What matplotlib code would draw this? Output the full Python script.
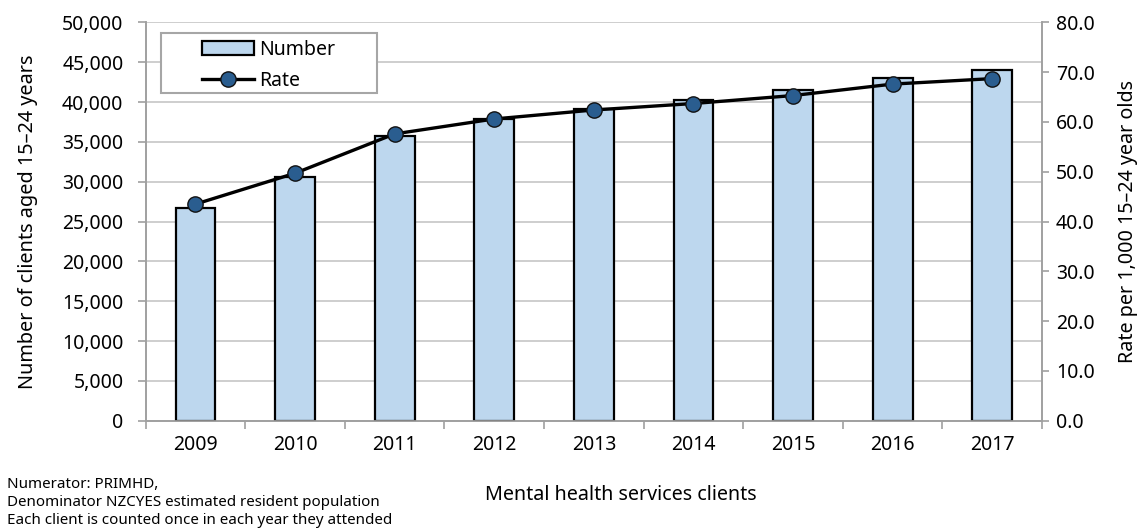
import numpy as np
import matplotlib.pyplot as plt
from matplotlib.patches import Rectangle
from matplotlib.ticker import FuncFormatter, MultipleLocator

plt.rcParams['font.family'] = ['Noto Sans', 'DejaVu Sans']

# Mental health services clients aged 15-24, by year
years = ['2009', '2010', '2011', '2012', '2013', '2014', '2015', '2016', '2017']
clients = [26700, 30600, 35700, 37900, 39150, 40200, 41500, 43050, 44000]
rate_per_1000 = [43.5, 49.7, 57.6, 60.6, 62.4, 63.7, 65.3, 67.6, 68.7]

grid_col = '#c6c6c6'
axis_col = '#a0a0a0'

fig = plt.figure(figsize=(11.41, 5.32), dpi=100)
ax = fig.add_axes([0.1277, 0.2092, 0.9132 - 0.1277, 0.958 - 0.2092])
ax2 = ax.twinx()

x = np.arange(len(years))
bars = ax.bar(x, clients, width=0.4, color='#bdd7ee', edgecolor='black',
              linewidth=1.6, label='Number', zorder=3)
line, = ax2.plot(x, rate_per_1000, color='black', linewidth=2.4, marker='o',
                 markersize=11, markerfacecolor='#2a5d8f', markeredgecolor='#111111',
                 markeredgewidth=1.0, label='Rate', zorder=4)

# left axis: client counts
ax.set_xlim(-0.5, len(years) - 0.5)
ax.set_ylim(0, 50000)
ax.yaxis.set_major_locator(MultipleLocator(5000))
ax.yaxis.set_major_formatter(FuncFormatter(lambda v, p: f'{int(v):,}'))
ax.grid(axis='y', color=grid_col, linewidth=1.2, zorder=0)
ax.set_axisbelow(True)

# right axis: rate per 1,000
ax2.set_ylim(0, 80)
ax2.yaxis.set_major_locator(MultipleLocator(10))
ax2.yaxis.set_major_formatter(FuncFormatter(lambda v, p: f'{v:.1f}'))

ax.set_xticks(x)
ax.set_xticklabels(years)
ax.set_xticks(np.arange(-0.5, len(years)), minor=True)
ax.tick_params(axis='x', which='major', length=0, pad=10, labelsize=14)
ax.tick_params(axis='x', which='minor', length=6, color=axis_col, width=1.2)
ax.tick_params(axis='y', length=6, color=axis_col, width=1.2, labelsize=14, pad=10)
ax2.tick_params(axis='y', length=5, color=axis_col, width=1.2, labelsize=14, pad=5)

for a in (ax, ax2):
    a.spines['top'].set_visible(False)
    for s in ('left', 'right', 'bottom'):
        a.spines[s].set_color(axis_col)
        a.spines[s].set_linewidth(1.2)

ax.set_ylabel('Number of clients aged 15\u201324 years', fontsize=14.3, labelpad=17)
ax2.set_ylabel('Rate per 1,000 15\u201324 year olds', fontsize=14.2, labelpad=17)

# legend box drawn separately so it can be wider than its entries
box = Rectangle((0.0167, 0.8225), 0.2413, 0.1505, transform=ax2.transAxes,
                facecolor='white', edgecolor='#a6a6a6', linewidth=1.5, zorder=9)
ax2.add_patch(box)
leg = ax2.legend([bars, line], ['Number', 'Rate'], loc='upper left',
                 bbox_to_anchor=(0.0628, 0.956), fontsize=14, frameon=False,
                 borderpad=0, handlelength=2.67, handletextpad=0.25,
                 borderaxespad=0, labelspacing=0.55)
leg.set_zorder(10)

fig.text(0.544, 1 - 495 / 532, 'Mental health services clients', ha='center',
         va='center', fontsize=14.2)
notes = ['Numerator: PRIMHD,',
         'Denominator NZCYES estimated resident population',
         'Each client is counted once in each year they attended']
for i, t in enumerate(notes):
    fig.text(0.006, 1 - (484 + 18.5 * i) / 532, t, ha='left', va='center', fontsize=10.9)

fig.savefig('out.png', dpi=100)
